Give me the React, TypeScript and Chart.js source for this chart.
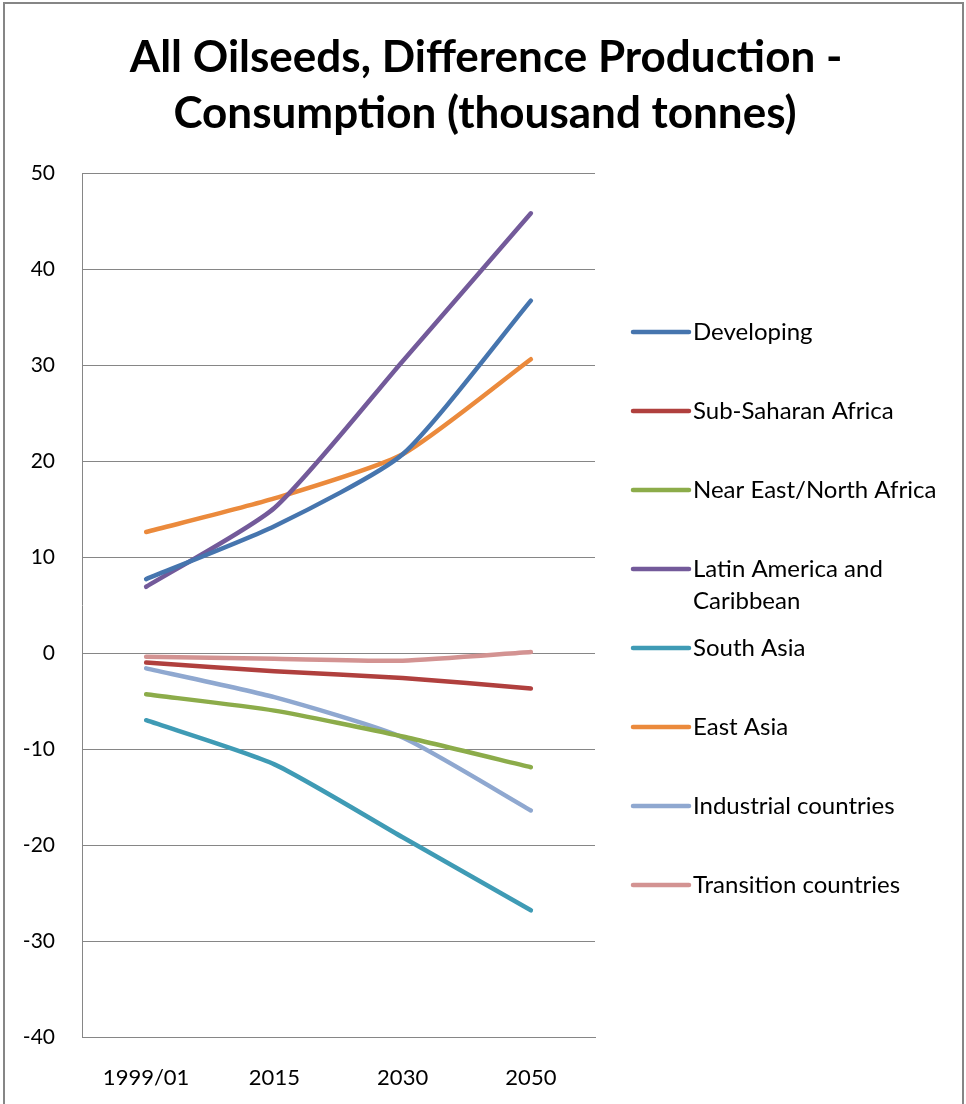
import { useEffect, useRef } from "react";
import { Chart, registerables } from "chart.js";

Chart.register(...registerables);

// Periods on the category axis
const periods = ["1999/01", "2015", "2030", "2050"];

// Production minus consumption, thousand tonnes
const developing = [7.7, 13.2, 20.7, 36.7];
const subSaharanAfrica = [-1.0, -1.9, -2.6, -3.7];
const nearEastNorthAfrica = [-4.3, -6.0, -8.7, -11.9];
const latinAmericaCaribbean = [6.9, 15.1, 30.4, 45.8];
const southAsia = [-7.0, -11.6, -19.2, -26.8];
const eastAsia = [12.6, 16.1, 20.7, 30.6];
const industrialCountries = [-1.6, -4.6, -8.8, -16.4];
const transitionCountries = [-0.4, -0.6, -0.8, 0.1];

const seriesNames = [
  "Developing",
  "Sub-Saharan Africa",
  "Near East/North Africa",
  "Latin America and Caribbean",
  "South Asia",
  "East Asia",
  "Industrial countries",
  "Transition countries",
];
const seriesValues = [
  developing,
  subSaharanAfrica,
  nearEastNorthAfrica,
  latinAmericaCaribbean,
  southAsia,
  eastAsia,
  industrialCountries,
  transitionCountries,
];
const seriesColors = [
  "#4675AE",
  "#B0403E",
  "#8CAC4A",
  "#735A9A",
  "#3F9BB5",
  "#EB8A3C",
  "#8FA8D0",
  "#D39392",
];

const titleLines = ["All Oilseeds, Difference Production -", "Consumption (thousand tonnes)"];

const Y_MIN = -40;
const Y_MAX = 50;
const Y_STEP = 10;

const W = 966;
const H = 1104;
const FONT = "Lato, 'Open Sans', sans-serif";
const GRID = "#868686";

// Frame around the whole chart plus the two-line title
const framePlugin = {
  id: "frameAndTitle",
  beforeDraw(chart: Chart) {
    const ctx = chart.ctx;
    ctx.save();
    ctx.fillStyle = "#ffffff";
    ctx.fillRect(0, 0, chart.width, chart.height);
    ctx.strokeStyle = GRID;
    ctx.lineWidth = 2;
    ctx.strokeRect(4, 3, chart.width - 3 - 4, chart.height + 20);
    ctx.fillStyle = "#000000";
    ctx.font = `bold 44px ${FONT}`;
    ctx.textAlign = "center";
    ctx.textBaseline = "alphabetic";
    ctx.fillText(titleLines[0], 486, 72);
    ctx.fillText(titleLines[1], 485, 128);
    ctx.restore();
  },
};

// Vertical legend on the right, wrapping long names
const legendPlugin = {
  id: "sideLegend",
  afterDraw(chart: Chart) {
    const ctx = chart.ctx;
    const top = 332;
    const step = 79;
    const lineX0 = 633;
    const lineX1 = 689;
    const textX = 693;
    const maxTextWidth = 262;
    const lineGap = 32;
    ctx.save();
    ctx.font = `24px ${FONT}`;
    ctx.textAlign = "left";
    ctx.textBaseline = "middle";
    chart.data.datasets.forEach((ds, i) => {
      const y = top + i * step;
      ctx.strokeStyle = ds.borderColor as string;
      ctx.lineWidth = 4.5;
      ctx.lineCap = "round";
      ctx.beginPath();
      ctx.moveTo(lineX0, y);
      ctx.lineTo(lineX1, y);
      ctx.stroke();
      const words = String(ds.label).split(" ");
      const lines: string[] = [];
      let cur = "";
      words.forEach((w) => {
        const test = cur ? cur + " " + w : w;
        if (ctx.measureText(test).width > maxTextWidth && cur) {
          lines.push(cur);
          cur = w;
        } else {
          cur = test;
        }
      });
      if (cur) lines.push(cur);
      ctx.fillStyle = "#000000";
      lines.forEach((ln, j) => ctx.fillText(ln, textX, y + j * lineGap));
    });
    ctx.restore();
  },
};

export default function App() {
  const canvasRef = useRef<HTMLCanvasElement | null>(null);

  useEffect(() => {
    const canvas = canvasRef.current;
    if (!canvas) return;
    Chart.defaults.font.family = FONT;
    Chart.defaults.color = "#000000";
    const chart = new Chart(canvas, {
      type: "line",
      data: {
        labels: periods,
        datasets: seriesNames.map((name, i) => ({
          label: name,
          data: seriesValues[i],
          borderColor: seriesColors[i],
          backgroundColor: seriesColors[i],
          borderWidth: 4.5,
          borderCapStyle: "round" as const,
          borderJoinStyle: "round" as const,
          pointRadius: 0,
          tension: 0.2,
          fill: false,
        })),
      },
      options: {
        animation: false,
        responsive: false,
        devicePixelRatio: 1,
        layout: { padding: { top: 173, left: 0, right: W - 595, bottom: 17 } },
        plugins: {
          legend: { display: false },
          title: { display: false },
          tooltip: { enabled: false },
        },
        scales: {
          x: {
            type: "category",
            offset: true,
            grid: { display: false, drawTicks: false },
            border: { display: true, color: GRID, width: 1 },
            ticks: { font: { size: 22 }, color: "#000000", padding: 28, maxRotation: 0 },
            afterFit: (s: any) => {
              s.height = 50;
            },
          },
          y: {
            min: Y_MIN,
            max: Y_MAX,
            grid: { color: GRID, lineWidth: 1, drawTicks: false },
            border: { display: true, color: GRID, width: 1 },
            ticks: { stepSize: Y_STEP, font: { size: 21 }, color: "#000000", padding: 27 },
            afterFit: (s: any) => {
              s.width = 82;
            },
          },
        },
      },
      plugins: [framePlugin, legendPlugin],
    });
    return () => chart.destroy();
  }, []);

  return (
    <div style={{ position: "fixed", left: 0, top: 0, width: W, height: H, background: "#fff" }}>
      <canvas ref={canvasRef} width={W} height={H} style={{ width: W, height: H, display: "block" }} />
    </div>
  );
}
